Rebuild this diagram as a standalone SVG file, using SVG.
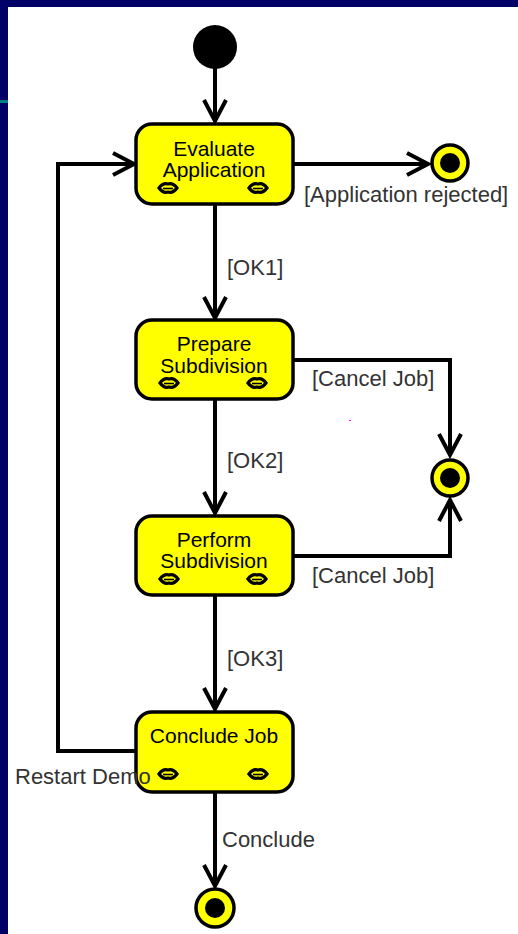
<svg xmlns="http://www.w3.org/2000/svg" width="518" height="934" viewBox="0 0 518 934">
<defs>
<style>
.node{fill:#ffff00;stroke:#000;stroke-width:3.5}
.nt{font-family:"Liberation Sans",Arial,sans-serif;font-size:21px;fill:#000;text-anchor:middle}
.lbl{font-family:"Liberation Sans",Arial,sans-serif;font-size:22px;fill:#333}
.edge{fill:none;stroke:#000;stroke-width:4}
.icon{fill:#ffff00;stroke:#000;stroke-width:3.2}
.fin-o{fill:#ffff00;stroke:#000;stroke-width:3.5}
</style>
<marker id="arr" markerUnits="userSpaceOnUse" markerWidth="30" markerHeight="30" refX="0" refY="0" viewBox="-24 -15 28 30" orient="auto">
<path d="M-21,-11 L0,0 L-21,11" fill="none" stroke="#000" stroke-width="4"/>
</marker>
<g id="ic"><path class="icon" d="M-9,0 Q-5,-5.5 0,-4 Q5,-5.5 9,0 Q5,5.5 0,4 Q-5,5.5 -9,0 Z"/><line x1="-5" y1="0.5" x2="5" y2="0.5" stroke="#000" stroke-width="1.6"/></g>
</defs>
<rect x="0" y="0" width="518" height="934" fill="#ffffff"/>
<rect x="0" y="0" width="518" height="7" fill="#000066"/>
<rect x="0" y="0" width="8" height="934" fill="#000066"/>
<rect x="0" y="100" width="8" height="3" fill="#008080"/>
<rect x="349" y="420" width="2" height="1" fill="#ff00ff"/>

<g id="connectors">
<line class="edge" x1="215" y1="66" x2="215" y2="121" marker-end="url(#arr)"/>
<line class="edge" x1="293" y1="164" x2="428" y2="164" marker-end="url(#arr)"/>
<line class="edge" x1="215" y1="205" x2="215" y2="318" marker-end="url(#arr)"/>
<polyline class="edge" points="293,360 450,360 450,455" marker-end="url(#arr)"/>
<line class="edge" x1="215" y1="400" x2="215" y2="513" marker-end="url(#arr)"/>
<polyline class="edge" points="293,556 450,556 450,500" marker-end="url(#arr)"/>
<line class="edge" x1="215" y1="596" x2="215" y2="709" marker-end="url(#arr)"/>
<polyline class="edge" points="136,751 58,751 58,164 134,164" marker-end="url(#arr)"/>
<line class="edge" x1="215" y1="793" x2="215" y2="886" marker-end="url(#arr)"/>
<text class="lbl" x="304" y="202">[Application rejected]</text>
<text class="lbl" x="227" y="275">[OK1]</text>
<text class="lbl" x="312" y="386">[Cancel Job]</text>
<text class="lbl" x="227" y="468">[OK2]</text>
<text class="lbl" x="312" y="583">[Cancel Job]</text>
<text class="lbl" x="227" y="666">[OK3]</text>
<text class="lbl" x="222" y="847">Conclude</text>
</g>

<g id="start"><circle cx="215" cy="47" r="22" fill="#000"/></g>

<g id="evaluate">
<rect class="node" x="136" y="124" width="157" height="80" rx="16"/>
<text class="nt" x="214" y="156">Evaluate</text>
<text class="nt" x="214" y="177">Application</text>
<use href="#ic" x="168" y="188"/><use href="#ic" x="258" y="188"/>
</g>

<g id="final1"><circle class="fin-o" cx="450" cy="163" r="18"/><circle cx="450" cy="163" r="10" fill="#000"/></g>

<g id="prepare">
<rect class="node" x="136" y="320" width="157" height="79" rx="16"/>
<text class="nt" x="214" y="351">Prepare</text>
<text class="nt" x="214" y="373">Subdivision</text>
<use href="#ic" x="169" y="383"/><use href="#ic" x="257" y="383"/>
</g>

<g id="final2"><circle class="fin-o" cx="450" cy="478" r="18"/><circle cx="450" cy="478" r="10" fill="#000"/></g>

<g id="perform">
<rect class="node" x="136" y="516" width="157" height="79" rx="16"/>
<text class="nt" x="214" y="547">Perform</text>
<text class="nt" x="214" y="568">Subdivision</text>
<use href="#ic" x="169" y="579"/><use href="#ic" x="257" y="579"/>
</g>

<g id="conclude">
<rect class="node" x="136" y="712" width="157" height="80" rx="16"/>
<text class="nt" x="214" y="743" font-size="22">Conclude Job</text>
<use href="#ic" x="168" y="774"/><use href="#ic" x="258" y="774"/>
</g>

<text class="lbl" x="15" y="784">Restart Demo</text>

<g id="final3"><circle class="fin-o" cx="215" cy="908" r="19"/><circle cx="215" cy="908" r="10" fill="#000"/></g>
</svg>
